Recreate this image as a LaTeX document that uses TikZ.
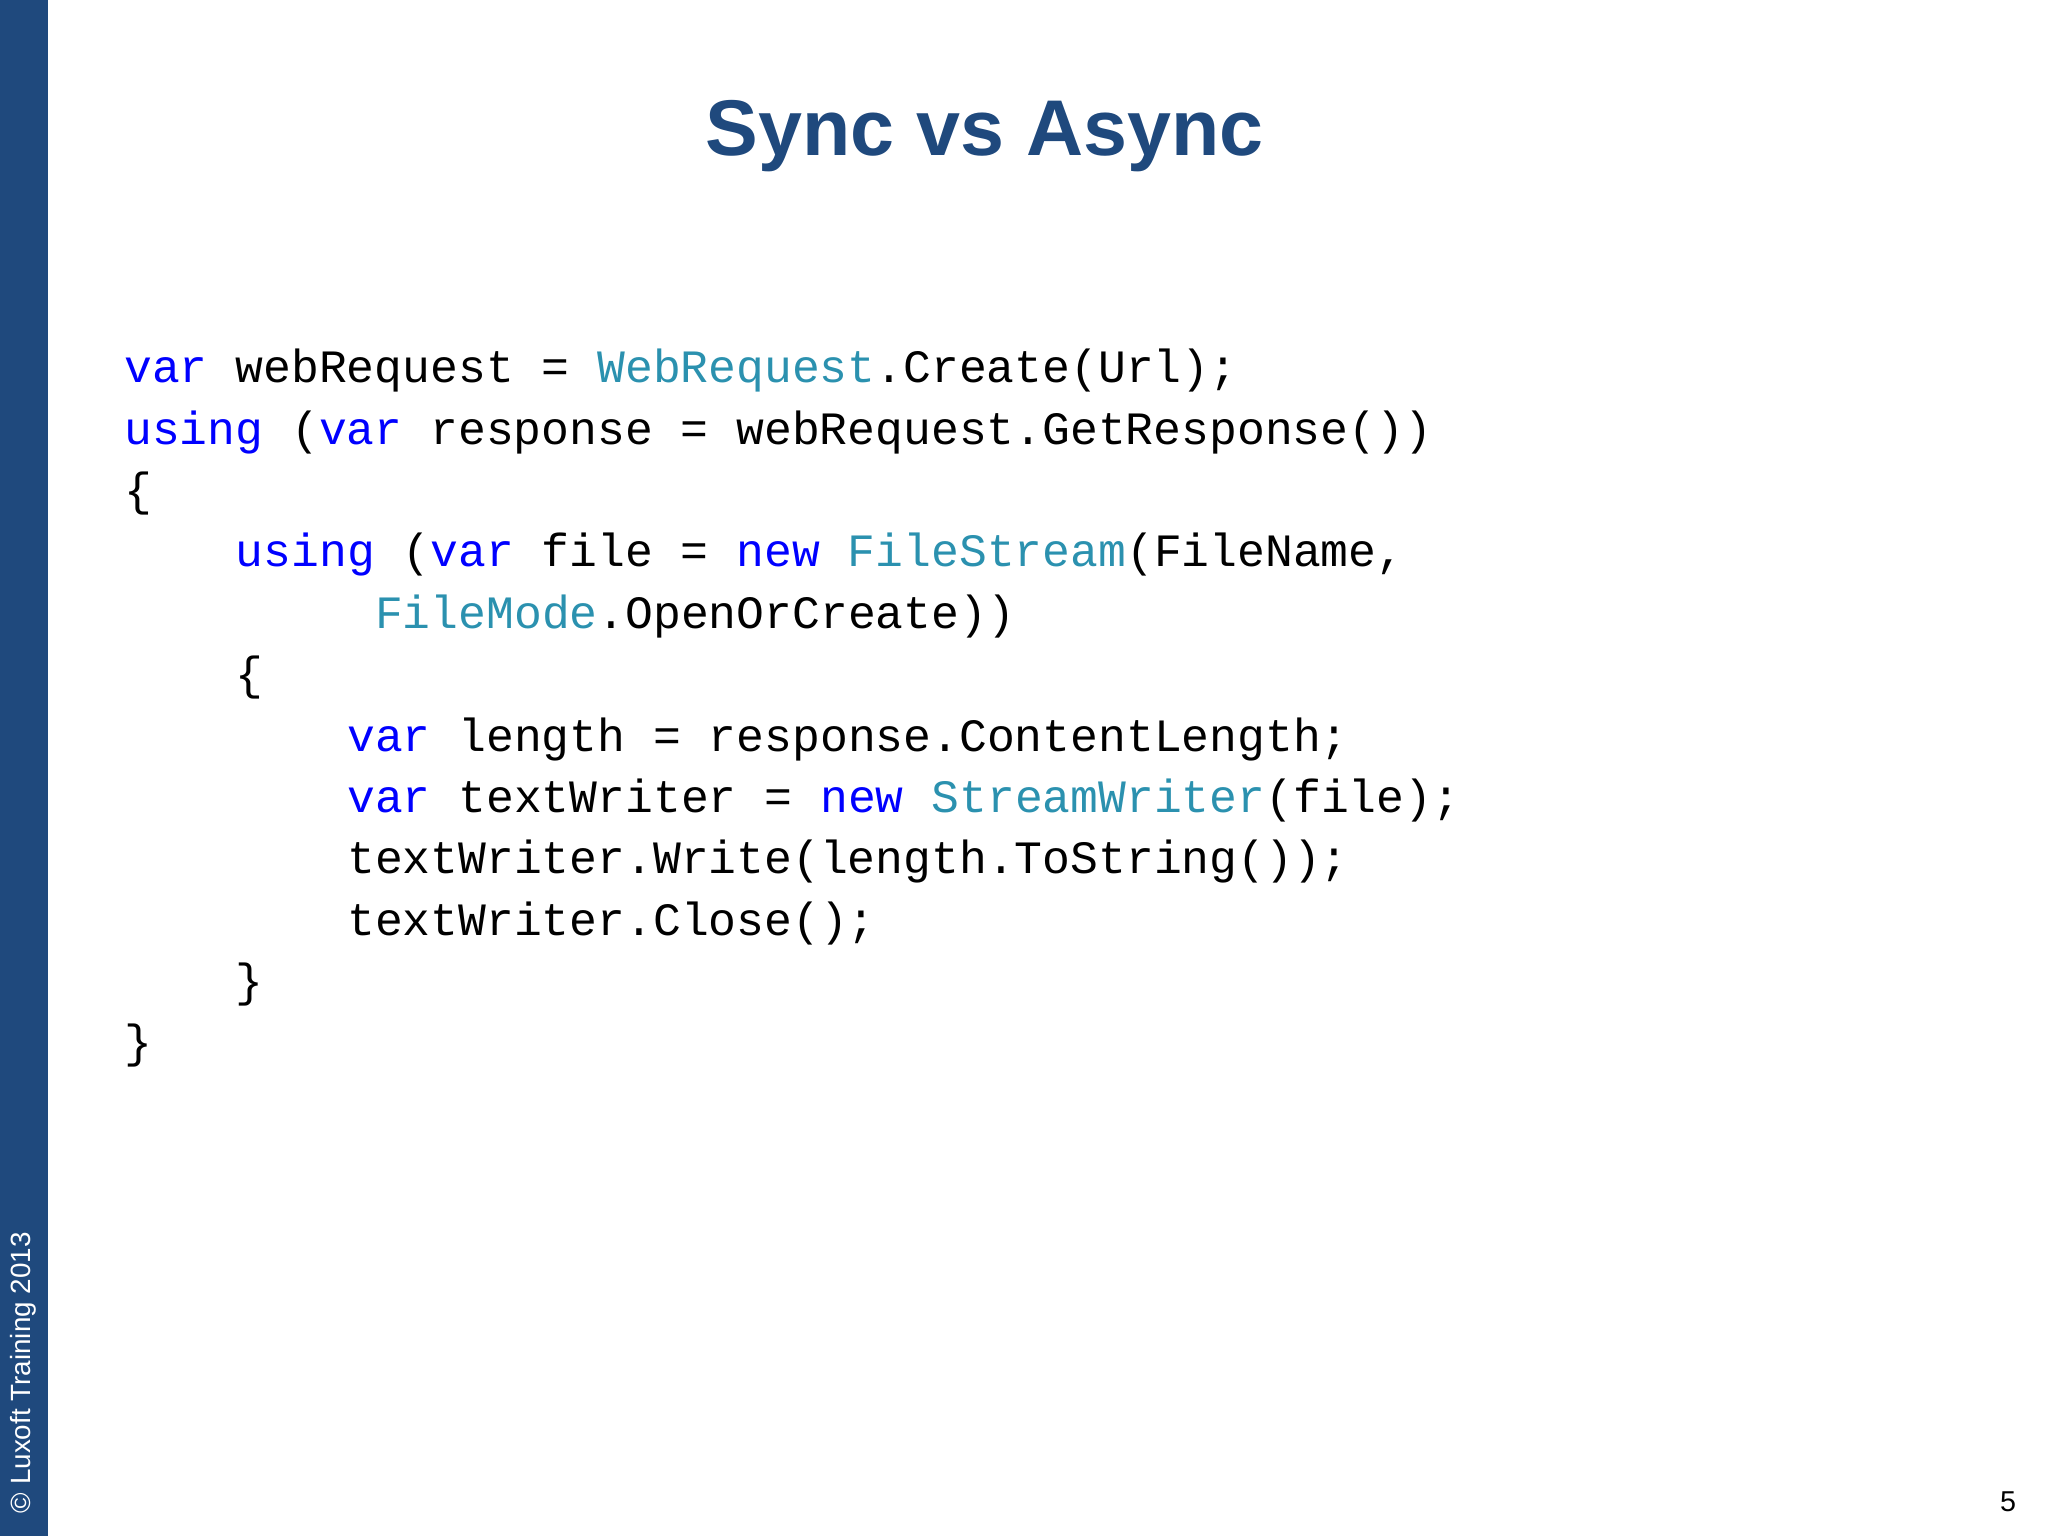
\documentclass[tikz,border=0pt]{standalone}
\usepackage{fontspec}
\setmainfont{Liberation Sans}
\newfontfamily\codefont{Liberation Mono}
\definecolor{side}{RGB}{31,73,125}
\definecolor{kw}{RGB}{0,0,255}
\definecolor{ty}{RGB}{43,145,175}
\definecolor{titlec}{RGB}{31,73,125}
\newcommand{\K}[1]{\textcolor{kw}{#1}}
\newcommand{\T}[1]{\textcolor{ty}{#1}}
\begin{document}
\begin{tikzpicture}[x=1pt,y=-1pt,
  code/.style={anchor=base west,inner sep=0pt,font=\codefont\fontsize{35.5}{40}\selectfont}]
\useasboundingbox (0,0) rectangle (1568,1176);
\fill[side] (0,0) rectangle (37,1176);
\node[rotate=90,anchor=west,font=\fontsize{21.3}{24}\selectfont,text=white] (copy) at (18,1162) {\copyright\ Luxoft Training 2013};
\node[font=\bfseries\fontsize{60.5}{70}\selectfont,text=titlec] (title) at (754,104) {Sync vs Async};
\node[font=\fontsize{22}{26}\selectfont,anchor=base east] (pg) at (1547,1157) {5};
\def\cw{21.33}
\node[code] (l1) at (95,293) {\K{var} webRequest = \T{WebRequest}.Create(Url);};
\node[code] (l2) at (95,340) {\K{using} (\K{var} response = webRequest.GetResponse())};
\node[code] (l3) at (95,387) {\{};
\node[code] (l4) at (95+4*\cw,434) {\K{using} (\K{var} file = \K{new} \T{FileStream}(FileName,};
\node[code] (l5) at (95+9*\cw,481) {\T{FileMode}.OpenOrCreate))};
\node[code] (l6) at (95+4*\cw,528) {\{};
\node[code] (l7) at (95+8*\cw,575) {\K{var} length = response.ContentLength;};
\node[code] (l8) at (95+8*\cw,622) {\K{var} textWriter = \K{new} \T{StreamWriter}(file);};
\node[code] (l9) at (95+8*\cw,669) {textWriter.Write(length.ToString());};
\node[code] (l10) at (95+8*\cw,716) {textWriter.Close();};
\node[code] (l11) at (95+4*\cw,763) {\}};
\node[code] (l12) at (95,810) {\}};
\end{tikzpicture}
\end{document}
